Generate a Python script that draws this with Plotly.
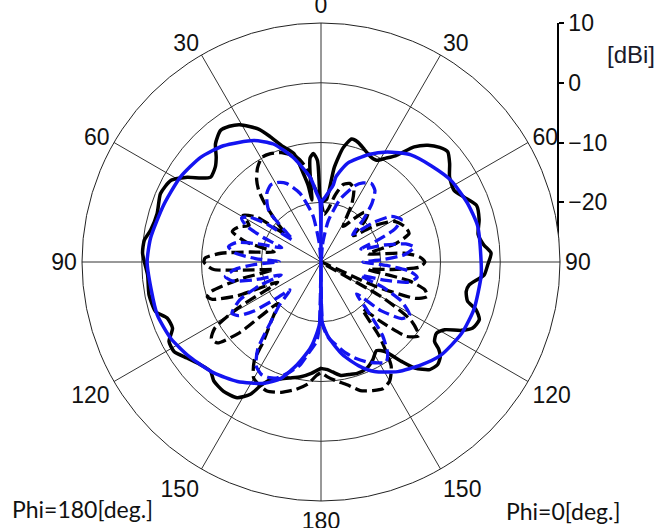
import plotly.graph_objects as go

# ---------------- data (theta in deg, gain in dBi) ----------------
# Black solid, Phi=0 (right half)
BS0_T = [0, 2, 5, 8, 11, 14, 17, 21, 25, 28.6, 32, 35, 39, 42.5, 46, 49, 52.6, 56.5, 61.7, 65.6,
         70, 75, 80, 84, 87, 91, 94.5, 98.8, 101.5, 105, 107, 110, 113.5, 116, 118.7, 121.7, 125,
         126.5, 128.5, 131.3, 134.7, 138.5, 141, 144.5, 148, 152, 157, 162, 166, 170, 174, 177, 180]
BS0_G = [-20, -19.8, -19.5, -14, -10.5, -8.8, -9.0, -9.8, -10.5, -10.6, -9.5, -8.3, -5.2, -3.5, -2.4,
         -1.9, -2.9, -4.2, -4.7, -3.7, -2.3, -2.6, -3.3, -2.6, -1.5, -2.1, -2.6, -4.9, -5.2, -4.6,
         -2.9, -1.8, -2.3, -3.9, -6.4, -7.3, -6.8, -5.5, -4.5, -4.0, -4.4, -6.3, -8.6, -11.6, -12.5,
         -11.5, -10.6, -10.4, -10.6, -10.7, -11.5, -12.0, -12.2]
# Black solid, Phi=180 (left half)
BS1_T = [0, 1, 2, 4, 6, 7.3, 8.3, 9.5, 11.3, 14, 18.6, 22, 25, 30.6, 34, 37.4, 41.8, 45, 48, 52.4,
         55, 57.6, 61.5, 66.9, 73.5, 79.4, 83, 87.2, 94.3, 100.8, 106.7, 110, 114, 117.6, 121.3,
         125.6, 130.4, 134.7, 138, 143, 148.3, 151.9, 153.9, 157, 161, 165, 170, 175, 180]
BS1_G = [-20, -19, -13, -11.8, -12.5, -16, -19.5, -17, -14.9, -11.3, -9.5, -7.4, -5.5, -3.3, -2.6,
         -2.3, -3.5, -5.2, -6.2, -6.7, -5.5, -3.5, -1.4, -0.8, -1.4, -1.0, -0.2, -0.1, -0.9, -0.7,
         -1.1, -2.6, -2.8, -1.3, -1.2, -2.4, -3.5, -4.0, -3.2, -2.9, -3.3, -4.9, -6.9, -8.7, -9.3,
         -9.9, -10.5, -11.3, -12.2]
# Blue solid, Phi=0
BL0_T = [0, 1, 3, 6, 9, 10, 15, 24, 31, 40, 49, 58, 68, 77, 90, 95, 107, 117, 128, 136, 145, 154,
         160, 167, 174, 177, 179, 180]
BL0_G = [-30, -19.8, -19.3, -18.3, -17, -15.5, -12.9, -10.3, -8.5, -6.6, -5.5, -4.3, -3.6, -3.1,
         -3.2, -3.1, -3.2, -3.6, -4.6, -6.0, -7.6, -9.6, -11.5, -14.1, -17.2, -18.8, -20, -30]
# Blue solid, Phi=180
BL1_T = [0, 1, 3.6, 7.3, 15, 22, 29, 40, 49, 59, 70, 82, 90, 99, 108, 117, 126, 136, 145, 155,
         161, 167, 173, 177, 179, 180]
BL1_G = [-30, -19.8, -18.5, -15.7, -11.85, -8.7, -6.75, -4.6, -3.3, -2.5, -2.0, -1.2, -0.9, -1.2,
         -1.2, -1.8, -2.9, -4.2, -5.6, -7.6, -9.4, -12.4, -15.5, -18.3, -20, -30]
# Blue dashed, Phi=0
BD0_T = [0, 5, 10, 17, 24, 28, 32.8, 37, 41, 45, 49, 53, 57, 62, 66, 69, 72, 75, 78, 81, 85, 88,
         90, 93, 96, 99, 103, 106, 109, 112, 116, 121, 125, 129, 132, 136, 140, 144, 147, 150, 155,
         160, 165, 170, 175, 178.5, 180]
BD0_G = [-30, -27, -23, -19, -16, -15, -14.4, -15, -17, -20, -23, -19, -16, -14.8, -16.5, -20, -23,
         -19, -15.5, -14.2, -16, -20, -23, -19, -15, -13.7, -15, -19, -23, -19, -15, -12.7, -13.5,
         -17, -22, -19, -14, -11, -10, -10.5, -11.5, -12.8, -14.3, -16, -17.5, -19.5, -30]
# Blue dashed, Phi=180
BD1_T = [0, 5, 10, 17, 23.5, 28, 33, 38, 43, 46, 49, 52, 55, 58, 61, 64, 67, 70, 74, 77, 80.6, 84,
         87, 89.5, 92, 95, 98.7, 102, 105, 108, 111, 115, 119.9, 123, 126, 129, 132, 136, 140, 144,
         148, 152, 156, 159, 164, 168.5, 172, 176.9, 178.5, 180]
BD1_G = [-30, -27, -22, -18, -15.7, -14.9, -14.6, -15.3, -16.8, -18, -22, -24, -19, -15.8, -14.8,
         -16, -19.5, -23, -19, -15.5, -14.3, -15.5, -19, -23, -19, -15.5, -13.8, -14.8, -18.5, -23,
         -19, -15, -12.8, -13.5, -16, -20, -23, -20, -17, -12, -9.5, -8.7, -8.8, -9.2, -10.8,
         -12.4, -14.5, -16.7, -19.5, -30]
# Black dashed, Phi=0
KD0_T = [0, 4, 8, 12, 16, 20, 24, 28, 32, 37, 41, 44, 47, 51, 56, 61, 67, 72, 76, 80, 84, 87, 90,
         93, 96, 99, 102, 105, 108, 111, 114, 117, 120, 123, 127, 131, 135, 138.5, 142, 146, 150,
         154, 158, 163, 168, 173, 177, 180]
KD0_G = [-20, -22, -21, -18.5, -16.5, -16, -16.5, -19, -23, -21, -19, -18.7, -20, -23, -19, -16,
         -14.8, -14.5, -17, -22, -16, -13.5, -12.6, -13.5, -18, -22, -15, -12, -11.3, -13, -20, -30,
         -18, -12, -9.5, -11, -16, -19.5, -14, -9, -7, -6.4, -6.8, -7.5, -9, -10, -10.8, -11.5]
# Black dashed, Phi=180
KD1_T = [0, 3, 5, 9, 13, 20, 25, 29.4, 34, 38, 41, 44, 48, 52, 55, 59, 63, 67, 71, 75, 78, 82, 85,
         88, 90, 92, 94, 96.7, 99, 102, 105, 107, 109, 112, 115, 119, 122, 125, 128, 131, 134, 140,
         144, 146, 150, 157, 163, 169, 174, 177.7, 180]
KD1_G = [-20, -18.5, -17.4, -14, -12, -10.5, -10, -9.9, -11, -12.5, -14.1, -16.5, -20, -22.5, -17,
         -14.8, -16.5, -15, -14.3, -17, -22, -18, -13.2, -10.6, -10.4, -11, -12, -18.7, -22, -16,
         -11, -10.1, -10.8, -15, -22, -14, -9, -7.6, -8, -12, -20, -17, -13.6, -10, -7.5, -6.6,
         -7.2, -8.3, -9.5, -11, -11.5]

ANG_TICKS = [0, 30, 60, 90, 120, 150, 180, 210, 240, 270, 300, 330]
ANG_TEXT = ["0", "30", "60", "90", "120", "150", "180", "150", "120", "90", "60", "30"]
R_TICKS = [-20, -10, 0, 10]
R_TEXT = ["\u221220", "\u221210", "0", "10"]
R_RANGE = [-30, 10]


def combine(t0, g0, t1, g1):
    """Phi=0 on the right (theta), Phi=180 on the left (360-theta)."""
    th = list(t0) + [360 - t for t in reversed(t1)]
    r = list(g0) + list(reversed(g1))
    return th, r


BLACK = "#000000"
BLUE = "#1414f0"

series = [
    (BS0_T, BS0_G, BS1_T, BS1_G, BLACK, "solid", 3.5),
    (KD0_T, KD0_G, KD1_T, KD1_G, BLACK, "12px,5px", 3.3),
    (BD0_T, BD0_G, BD1_T, BD1_G, BLUE, "12px,5px", 3.3),
    (BL0_T, BL0_G, BL1_T, BL1_G, BLUE, "solid", 3.5),
]

fig = go.Figure()
for t0, g0, t1, g1, col, dash, w in series:
    assert len(t0) == len(g0) and len(t1) == len(g1)
    th, r = combine(t0, g0, t1, g1)
    fig.add_trace(go.Scatterpolar(
        theta=th, r=r, mode="lines",
        line=dict(color=col, width=w, dash=dash, shape="spline", smoothing=0.6),
        showlegend=False, hoverinfo="skip"))

# empty cartesian trace so the separate dBi scale axis is drawn
fig.add_trace(go.Scatter(x=[], y=[], showlegend=False, hoverinfo="skip"))

W, H = 662, 528
CX, CY, R = 321, 262, 239
tick_font = dict(family="Liberation Sans, Arial, sans-serif", size=23, color="#111")

fig.update_layout(
    template="none",
    width=W, height=H,
    margin=dict(l=0, r=0, t=0, b=0, autoexpand=False),
    paper_bgcolor="white", plot_bgcolor="rgba(0,0,0,0)",
    showlegend=False,
    polar=dict(
        domain=dict(x=[(CX - R) / W, (CX + R) / W], y=[1 - (CY + R) / H, 1 - (CY - R) / H]),
        bgcolor="white",
        radialaxis=dict(range=R_RANGE, tickvals=R_TICKS, showticklabels=False, ticks="",
                        showline=False, gridcolor="#333333", gridwidth=1),
        angularaxis=dict(rotation=90, direction="clockwise", tickmode="array",
                         tickvals=ANG_TICKS, ticktext=ANG_TEXT, showline=True,
                         linecolor="#222222", linewidth=1, gridcolor="#333333", gridwidth=1,
                         ticks="", tickfont=tick_font),
    ),
    xaxis=dict(visible=False, domain=[0, 1], range=[0, 1], fixedrange=True, automargin=False),
    yaxis=dict(domain=[1 - CY / H, 1 - (CY - R) / H], range=R_RANGE, anchor="free",
               position=(CX + R - 2) / W, side="right", showline=True, linecolor="black",
               linewidth=1.5, ticks="outside", ticklen=5, tickwidth=1.5, tickcolor="black",
               tickmode="array", tickvals=R_TICKS, ticktext=R_TEXT, showgrid=False,
               zeroline=False, tickfont=tick_font, fixedrange=True, automargin=False),
    annotations=[
        dict(text="[dBi]", x=631 / W, y=1 - 54 / H, xref="paper", yref="paper",
             xanchor="center", yanchor="middle", showarrow=False,
             font=dict(family="Liberation Sans, Arial, sans-serif", size=24, color="#1a1a2a")),
        dict(text="Phi=180[deg.]", x=10 / W, y=1 - 509 / H, xref="paper", yref="paper",
             xanchor="left", yanchor="middle", showarrow=False,
             font=dict(family="Lato, sans-serif", size=23, color="#111")),
        dict(text="Phi=0[deg.]", x=504 / W, y=1 - 511 / H, xref="paper", yref="paper",
             xanchor="left", yanchor="middle", showarrow=False,
             font=dict(family="Lato, sans-serif", size=23, color="#111")),
    ],
)

fig.write_html("out.html", config={"displayModeBar": False},
               post_script="document.body.style.margin='0px';document.body.style.padding='0px';")
